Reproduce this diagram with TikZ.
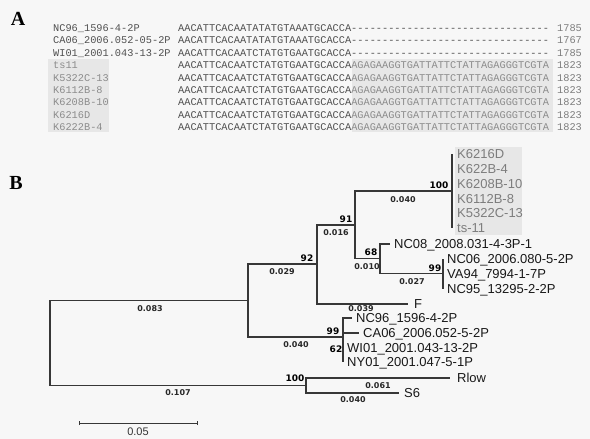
\documentclass[tikz,border=0pt]{standalone}
\usepackage{fontspec}
\setmainfont{Liberation Sans}
\setmonofont{Liberation Mono}
\newfontfamily\treenum{DejaVu Sans}
\newfontfamily\panelserif{Liberation Serif}
\usepackage{xcolor}
\usetikzlibrary{positioning}
\definecolor{paper}{RGB}{247,247,247}
\definecolor{boxgray}{RGB}{231,231,231}
\definecolor{treeline}{RGB}{55,55,55}
\definecolor{seqdark}{RGB}{80,80,80}
\definecolor{seqlight}{RGB}{140,140,140}
\definecolor{leafgray}{RGB}{125,125,125}
\definecolor{blencol}{RGB}{40,40,40}

\begin{document}
\begin{tikzpicture}[x=1pt,y=-1pt,
  branch/.style={draw=treeline,line width=1.1pt},
  leaf/.style={inner sep=0pt,text height=9.3pt,text depth=0pt,text=black!90,font=\fontsize{13}{15}\selectfont},
  kleaf/.style={leaf,text=leafgray},
  blen/.style={inner sep=0pt,text height=5.9pt,text depth=0pt,text=blencol,font=\treenum\bfseries\fontsize{8}{9}\selectfont},
  boot/.style={inner sep=0pt,text height=6.5pt,text depth=0pt,font=\treenum\bfseries\fontsize{9}{10}\selectfont},
  seqtext/.style={anchor=west,inner sep=0pt,text height=6.8pt,text depth=0pt,text=seqdark,font=\ttfamily\fontsize{10.3}{12}\selectfont},
  seqpale/.style={seqtext,text=seqlight},
  seqnum/.style={seqtext,text=leafgray},
  panel/.style={inner sep=0pt,font=\panelserif\bfseries\fontsize{20}{22}\selectfont}]
  \fill[paper] (0,0) rectangle (590,439);
  \useasboundingbox (0,0) rectangle (590,439);

  % panel A: alignment
  \node[panel] (labA) at (18,19) {A};
  \fill[boxgray] (48,59) rectangle (109,132);
  \fill[boxgray] (352,59) rectangle (553,132);
  \node[seqtext] (nm1) at (53,28) {NC96\_1596-4-2P};
  \node[seqtext] (nm2) at (53,40.4) {CA06\_2006.052-05-2P};
  \node[seqtext] (nm3) at (53,52.8) {WI01\_2001.043-13-2P};
  \node[seqpale] (nm4) at (53,65.2) {ts11};
  \node[seqpale] (nm5) at (53,77.6) {K5322C-13};
  \node[seqpale] (nm6) at (53,90) {K6112B-8};
  \node[seqpale] (nm7) at (53,102.4) {K6208B-10};
  \node[seqpale] (nm8) at (53,114.8) {K6216D};
  \node[seqpale] (nm9) at (53,127.2) {K6222B-4};
  \node[seqtext] (sq1) at (178,28) {AACATTCACAATATATGTAAATGCACCA--------------------------------};
  \node[seqtext] (sq2) at (178,40.4) {AACATTCACAATATATGTAAATGCACCA--------------------------------};
  \node[seqtext] (sq3) at (178,52.8) {AACATTCACAATCTATGTGAATGCACCA--------------------------------};
  \node[seqtext] (sq4) at (178,65.2) {AACATTCACAATCTATGTGAATGCACCA\textcolor{seqlight}{AGAGAAGGTGATTATTCTATTAGAGGGTCGTA}};
  \node[seqtext] (sq5) at (178,77.6) {AACATTCACAATCTATGTGAATGCACCA\textcolor{seqlight}{AGAGAAGGTGATTATTCTATTAGAGGGTCGTA}};
  \node[seqtext] (sq6) at (178,90) {AACATTCACAATCTATGTGAATGCACCA\textcolor{seqlight}{AGAGAAGGTGATTATTCTATTAGAGGGTCGTA}};
  \node[seqtext] (sq7) at (178,102.4) {AACATTCACAATCTATGTGAATGCACCA\textcolor{seqlight}{AGAGAAGGTGATTATTCTATTAGAGGGTCGTA}};
  \node[seqtext] (sq8) at (178,114.8) {AACATTCACAATCTATGTGAATGCACCA\textcolor{seqlight}{AGAGAAGGTGATTATTCTATTAGAGGGTCGTA}};
  \node[seqtext] (sq9) at (178,127.2) {AACATTCACAATCTATGTGAATGCACCA\textcolor{seqlight}{AGAGAAGGTGATTATTCTATTAGAGGGTCGTA}};
  \node[seqnum] (ps1) at (557,28) {1785};
  \node[seqnum] (ps2) at (557,40.4) {1767};
  \node[seqnum] (ps3) at (557,52.8) {1785};
  \node[seqnum] (ps4) at (557,65.2) {1823};
  \node[seqnum] (ps5) at (557,77.6) {1823};
  \node[seqnum] (ps6) at (557,90) {1823};
  \node[seqnum] (ps7) at (557,102.4) {1823};
  \node[seqnum] (ps8) at (557,114.8) {1823};
  \node[seqnum] (ps9) at (557,127.2) {1823};

  % panel B: tree
  \node[panel] (labB) at (16,183) {B};
  \fill[boxgray] (455,147) rectangle (522,235);
  \coordinate (root) at (50,343.5);
  \coordinate (nA) at (248,300.5);
  \coordinate (n92) at (317,264);
  \coordinate (n91) at (355,225);
  \coordinate (nK) at (452,191);
  \coordinate (n68) at (380,258.5);
  \coordinate (n99) at (443,273.5);
  \coordinate (nLow) at (343,337);
  \coordinate (nRS) at (306,385.5);
  \coordinate (tK1) at (452,154);
  \coordinate (tK2) at (452,168.8);
  \coordinate (tK3) at (452,183.6);
  \coordinate (tK4) at (452,198.4);
  \coordinate (tK5) at (452,213.2);
  \coordinate (tK6) at (452,228);
  \coordinate (tNC08) at (390,244);
  \coordinate (tNC06) at (443,258.5);
  \coordinate (tVA94) at (443,273.5);
  \coordinate (tNC95) at (443,288.5);
  \coordinate (tF) at (408,304);
  \coordinate (tNC96) at (352,318);
  \coordinate (tCA06) at (359,333);
  \coordinate (tWI01) at (343,347.5);
  \coordinate (tNY01) at (343,362);
  \coordinate (tRlow) at (450,378);
  \coordinate (tS6) at (399,393);

  \draw[branch] (root) |- (nA);
  \draw[branch] (root) |- (nRS);
  \draw[branch] (nA) |- (n92);
  \draw[branch] (nA) |- (nLow);
  \draw[branch] (n92) |- (n91);
  \draw[branch] (n92) |- (tF);
  \draw[branch] (n91) |- (nK);
  \draw[branch] (n91) |- (n68);
  \draw[branch] (nK) |- (tK1);
  \draw[branch] (nK) |- (tK6);
  \draw[branch] (n68) |- (tNC08);
  \draw[branch] (n68) |- (n99);
  \draw[branch] (n99) |- (tNC06);
  \draw[branch] (n99) |- (tNC95);
  \draw[branch] (nLow) |- (tNC96);
  \draw[branch] (nLow) |- (tCA06);
  \draw[branch] (nLow) |- (tNY01);
  \draw[branch] (nRS) |- (tRlow);
  \draw[branch] (nRS) |- (tS6);

  \node[kleaf,right=5pt of tK1] (lK1) {K6216D};
  \node[kleaf,right=5pt of tK2] (lK2) {K622B-4};
  \node[kleaf,right=5pt of tK3] (lK3) {K6208B-10};
  \node[kleaf,right=5pt of tK4] (lK4) {K6112B-8};
  \node[kleaf,right=5pt of tK5] (lK5) {K5322C-13};
  \node[kleaf,right=5pt of tK6] (lK6) {ts-11};
  \node[leaf,right=4pt of tNC08] (lNC08) {NC08\_2008.031-4-3P-1};
  \node[leaf,right=4pt of tNC06] (lNC06) {NC06\_2006.080-5-2P};
  \node[leaf,right=4pt of tVA94] (lVA94) {VA94\_7994-1-7P};
  \node[leaf,right=4pt of tNC95] (lNC95) {NC95\_13295-2-2P};
  \node[leaf,right=6pt of tF] (lF) {F};
  \node[leaf,right=4pt of tNC96] (lNC96) {NC96\_1596-4-2P};
  \node[leaf,right=4pt of tCA06] (lCA06) {CA06\_2006.052-5-2P};
  \node[leaf,right=4pt of tWI01] (lWI01) {WI01\_2001.043-13-2P};
  \node[leaf,right=4pt of tNY01] (lNY01) {NY01\_2001.047-5-1P};
  \node[leaf,right=7pt of tRlow] (lRlow) {Rlow};
  \node[leaf,right=5pt of tS6] (lS6) {S6};

  % branch lengths
  \node[blen] (b083) at (150,309) {0.083};
  \node[blen] (b107) at (178,393) {0.107};
  \node[blen] (b029) at (282,272) {0.029};
  \node[blen] (b016) at (336,233) {0.016};
  \node[blen] (b040k) at (403,200) {0.040};
  \node[blen] (b010) at (367,267) {0.010};
  \node[blen] (b027) at (412,282) {0.027};
  \node[blen] (b039) at (361,308.5) {0.039};
  \node[blen] (b040l) at (296,345) {0.040};
  \node[blen] (b061) at (378,386) {0.061};
  \node[blen] (b040s) at (353,400) {0.040};
  % bootstrap
  \node[boot] (s92) at (307,258) {92};
  \node[boot] (s91) at (346,219) {91};
  \node[boot] (s100k) at (439,185) {100};
  \node[boot] (s68) at (371,252) {68};
  \node[boot] (s99a) at (435,268) {99};
  \node[boot] (s99b) at (333,331) {99};
  \node[boot] (s62) at (336,349) {62};
  \node[boot] (s100r) at (295,378) {100};

  % scale bar
  \coordinate (sbL) at (79,423);
  \coordinate (sbR) at (197,423);
  \draw[draw=treeline,line width=0.8pt] (sbL) -- (sbR);
  \draw[draw=treeline,line width=0.8pt] ([yshift=-2pt]sbL) -- ([yshift=2pt]sbL);
  \draw[draw=treeline,line width=0.8pt] ([yshift=-2pt]sbR) -- ([yshift=2pt]sbR);
  \node[inner sep=0pt,text height=8pt,text depth=0pt,text=black!80,font=\fontsize{11}{12}\selectfont] (sblab) at (138,431) {0.05};
\end{tikzpicture}
\end{document}
